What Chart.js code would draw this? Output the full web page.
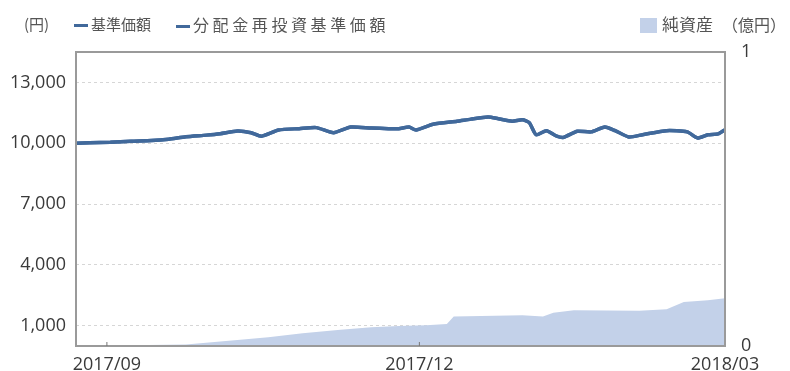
<!DOCTYPE html>
<html>
<head>
<meta charset="utf-8">
<script src="https://cdn.jsdelivr.net/npm/chart.js@4"></script>
<style>
  body { margin: 0; background: #fff; font-family: "Noto Sans CJK JP", "Noto Sans", sans-serif; }
  #wrap { position: relative; width: 790px; height: 371px; }
  #chart { position: absolute; left: 0; top: 0; }
  .hd { position: absolute; top: 14px; font-size: 15px; color: #555; white-space: nowrap; line-height: 20px; }
  .dash { display: inline-block; width: 14px; height: 3px; background: #41699b; vertical-align: middle; margin-right: 3px; }
  .box { display: inline-block; width: 17px; height: 15px; background: #c3d1e9; vertical-align: -2px; margin-right: 5px; }
</style>
</head>
<body>
<div id="wrap">
  <canvas id="chart" width="790" height="371"></canvas>
  <div class="hd" style="left:24px">(円)</div>
  <div class="hd" style="left:74px"><span class="dash"></span>基準価額</div>
  <div class="hd" style="left:176px"><span class="dash"></span><span style="font-size:16px;letter-spacing:3.6px">分配金再投資基準価額</span></div>
  <div class="hd" style="left:640px"><span class="box"></span><span style="font-size:17px">純資産</span></div>
  <div class="hd" style="left:722px;font-size:16px">（億円）</div>
</div>
<script>
// days counted from 2017/08/23, last day 2018/02/28
const navDays = [0, 4, 10, 16, 22, 27, 32, 38, 42, 47, 51, 54, 59, 65, 70, 75, 80, 86, 91, 94, 97, 99,
  104, 111, 115, 120, 123, 127, 130, 132, 134, 137, 140, 142, 146, 150, 154, 157, 161, 165, 172, 178,
  181, 184, 187, 189];
const nav = [10000, 10030, 10050, 10100, 10130, 10200, 10320, 10400, 10470, 10600, 10520, 10350, 10650,
  10720, 10770, 10520, 10800, 10750, 10720, 10720, 10800, 10650, 10940, 11090, 11190, 11290, 11210,
  11090, 11160, 11020, 10420, 10620, 10350, 10290, 10590, 10560, 10800, 10620, 10310, 10420, 10620,
  10560, 10260, 10420, 10460, 10670];
// no distributions paid yet, so the reinvested series is the same as the NAV
const navReinvested = nav.slice();

const assetDays = [0, 21, 32, 47, 56, 66, 77, 86, 94, 102, 108, 110, 130, 136, 139, 145, 164, 172, 177, 184, 189];
const netAssets = [0.002, 0.003, 0.005, 0.02, 0.03, 0.043, 0.055, 0.064, 0.068, 0.071, 0.075, 0.1, 0.105,
  0.10, 0.113, 0.122, 0.12, 0.125, 0.15, 0.156, 0.162];

const xTickDays = [9, 100, 189];
const xTickLabels = ['2017/09', '2017/12', '2018/03'];
const yTicks = [1000, 4000, 7000, 10000, 13000];

const toPoints = (xs, ys) => xs.map((d, i) => ({ x: d, y: ys[i] }));

const frame = {
  id: 'frame',
  afterDraw(chart) {
    const a = chart.chartArea, ctx = chart.ctx;
    ctx.save();
    ctx.strokeStyle = '#9a9a9a';
    ctx.lineWidth = 2;
    ctx.strokeRect(a.left, a.top, a.right - a.left, a.bottom - a.top);
    // small ticks on the bottom edge
    ctx.lineWidth = 1;
    ctx.strokeStyle = '#777';
    xTickDays.slice(0, 2).forEach(d => {
      const x = chart.scales.x.getPixelForValue(d);
      ctx.beginPath();
      ctx.moveTo(x, a.bottom);
      ctx.lineTo(x, a.bottom - 4);
      ctx.stroke();
    });
    ctx.restore();
  }
};

const tickFont = { family: '"Open Sans", "Noto Sans", sans-serif', size: 18 };

new Chart('chart', {
  type: 'line',
  data: {
    datasets: [
      {
        label: '基準価額',
        data: toPoints(navDays, nav),
        borderColor: '#41699b',
        borderWidth: 3.5,
        pointRadius: 0,
        tension: 0.2,
        yAxisID: 'y'
      },
      {
        label: '分配金再投資基準価額',
        data: toPoints(navDays, navReinvested),
        borderColor: '#41699b',
        borderWidth: 3.5,
        pointRadius: 0,
        tension: 0.2,
        yAxisID: 'y'
      },
      {
        label: '純資産',
        data: toPoints(assetDays, netAssets),
        borderWidth: 0,
        backgroundColor: '#c3d1e9',
        fill: 'origin',
        pointRadius: 0,
        yAxisID: 'y1'
      }
    ]
  },
  options: {
    responsive: false,
    animation: false,
    layout: { padding: { top: 52, left: 0, right: 0, bottom: 0 } },
    plugins: { legend: { display: false }, tooltip: { enabled: false } },
    scales: {
      x: {
        type: 'linear',
        min: 0,
        max: 189,
        afterBuildTicks: s => { s.ticks = xTickDays.map(v => ({ value: v })); },
        afterFit: s => { s.height = 25; },
        ticks: {
          autoSkip: false,
          maxRotation: 0,
          color: '#3a3a3a',
          font: tickFont,
          padding: 0,
          callback: (v) => xTickLabels[xTickDays.indexOf(v)]
        },
        grid: { display: false },
        border: { display: false }
      },
      y: {
        position: 'left',
        min: 0,
        max: 14500,
        afterBuildTicks: s => { s.ticks = yTicks.map(v => ({ value: v })); },
        afterFit: s => { s.width = 76; },
        ticks: {
          color: '#3a3a3a',
          font: tickFont,
          padding: 10,
          callback: v => v.toLocaleString('en-US')
        },
        grid: { color: '#d6d6d6', drawTicks: false },
        border: { display: false, dash: [3, 3] }
      },
      y1: {
        position: 'right',
        min: 0,
        max: 1,
        afterBuildTicks: s => { s.ticks = [{ value: 0 }, { value: 1 }]; },
        afterFit: s => { s.width = 65; },
        ticks: { color: '#3a3a3a', font: tickFont, padding: 8 },
        grid: { display: false },
        border: { display: false }
      }
    }
  },
  plugins: [frame]
});
</script>
</body>
</html>
